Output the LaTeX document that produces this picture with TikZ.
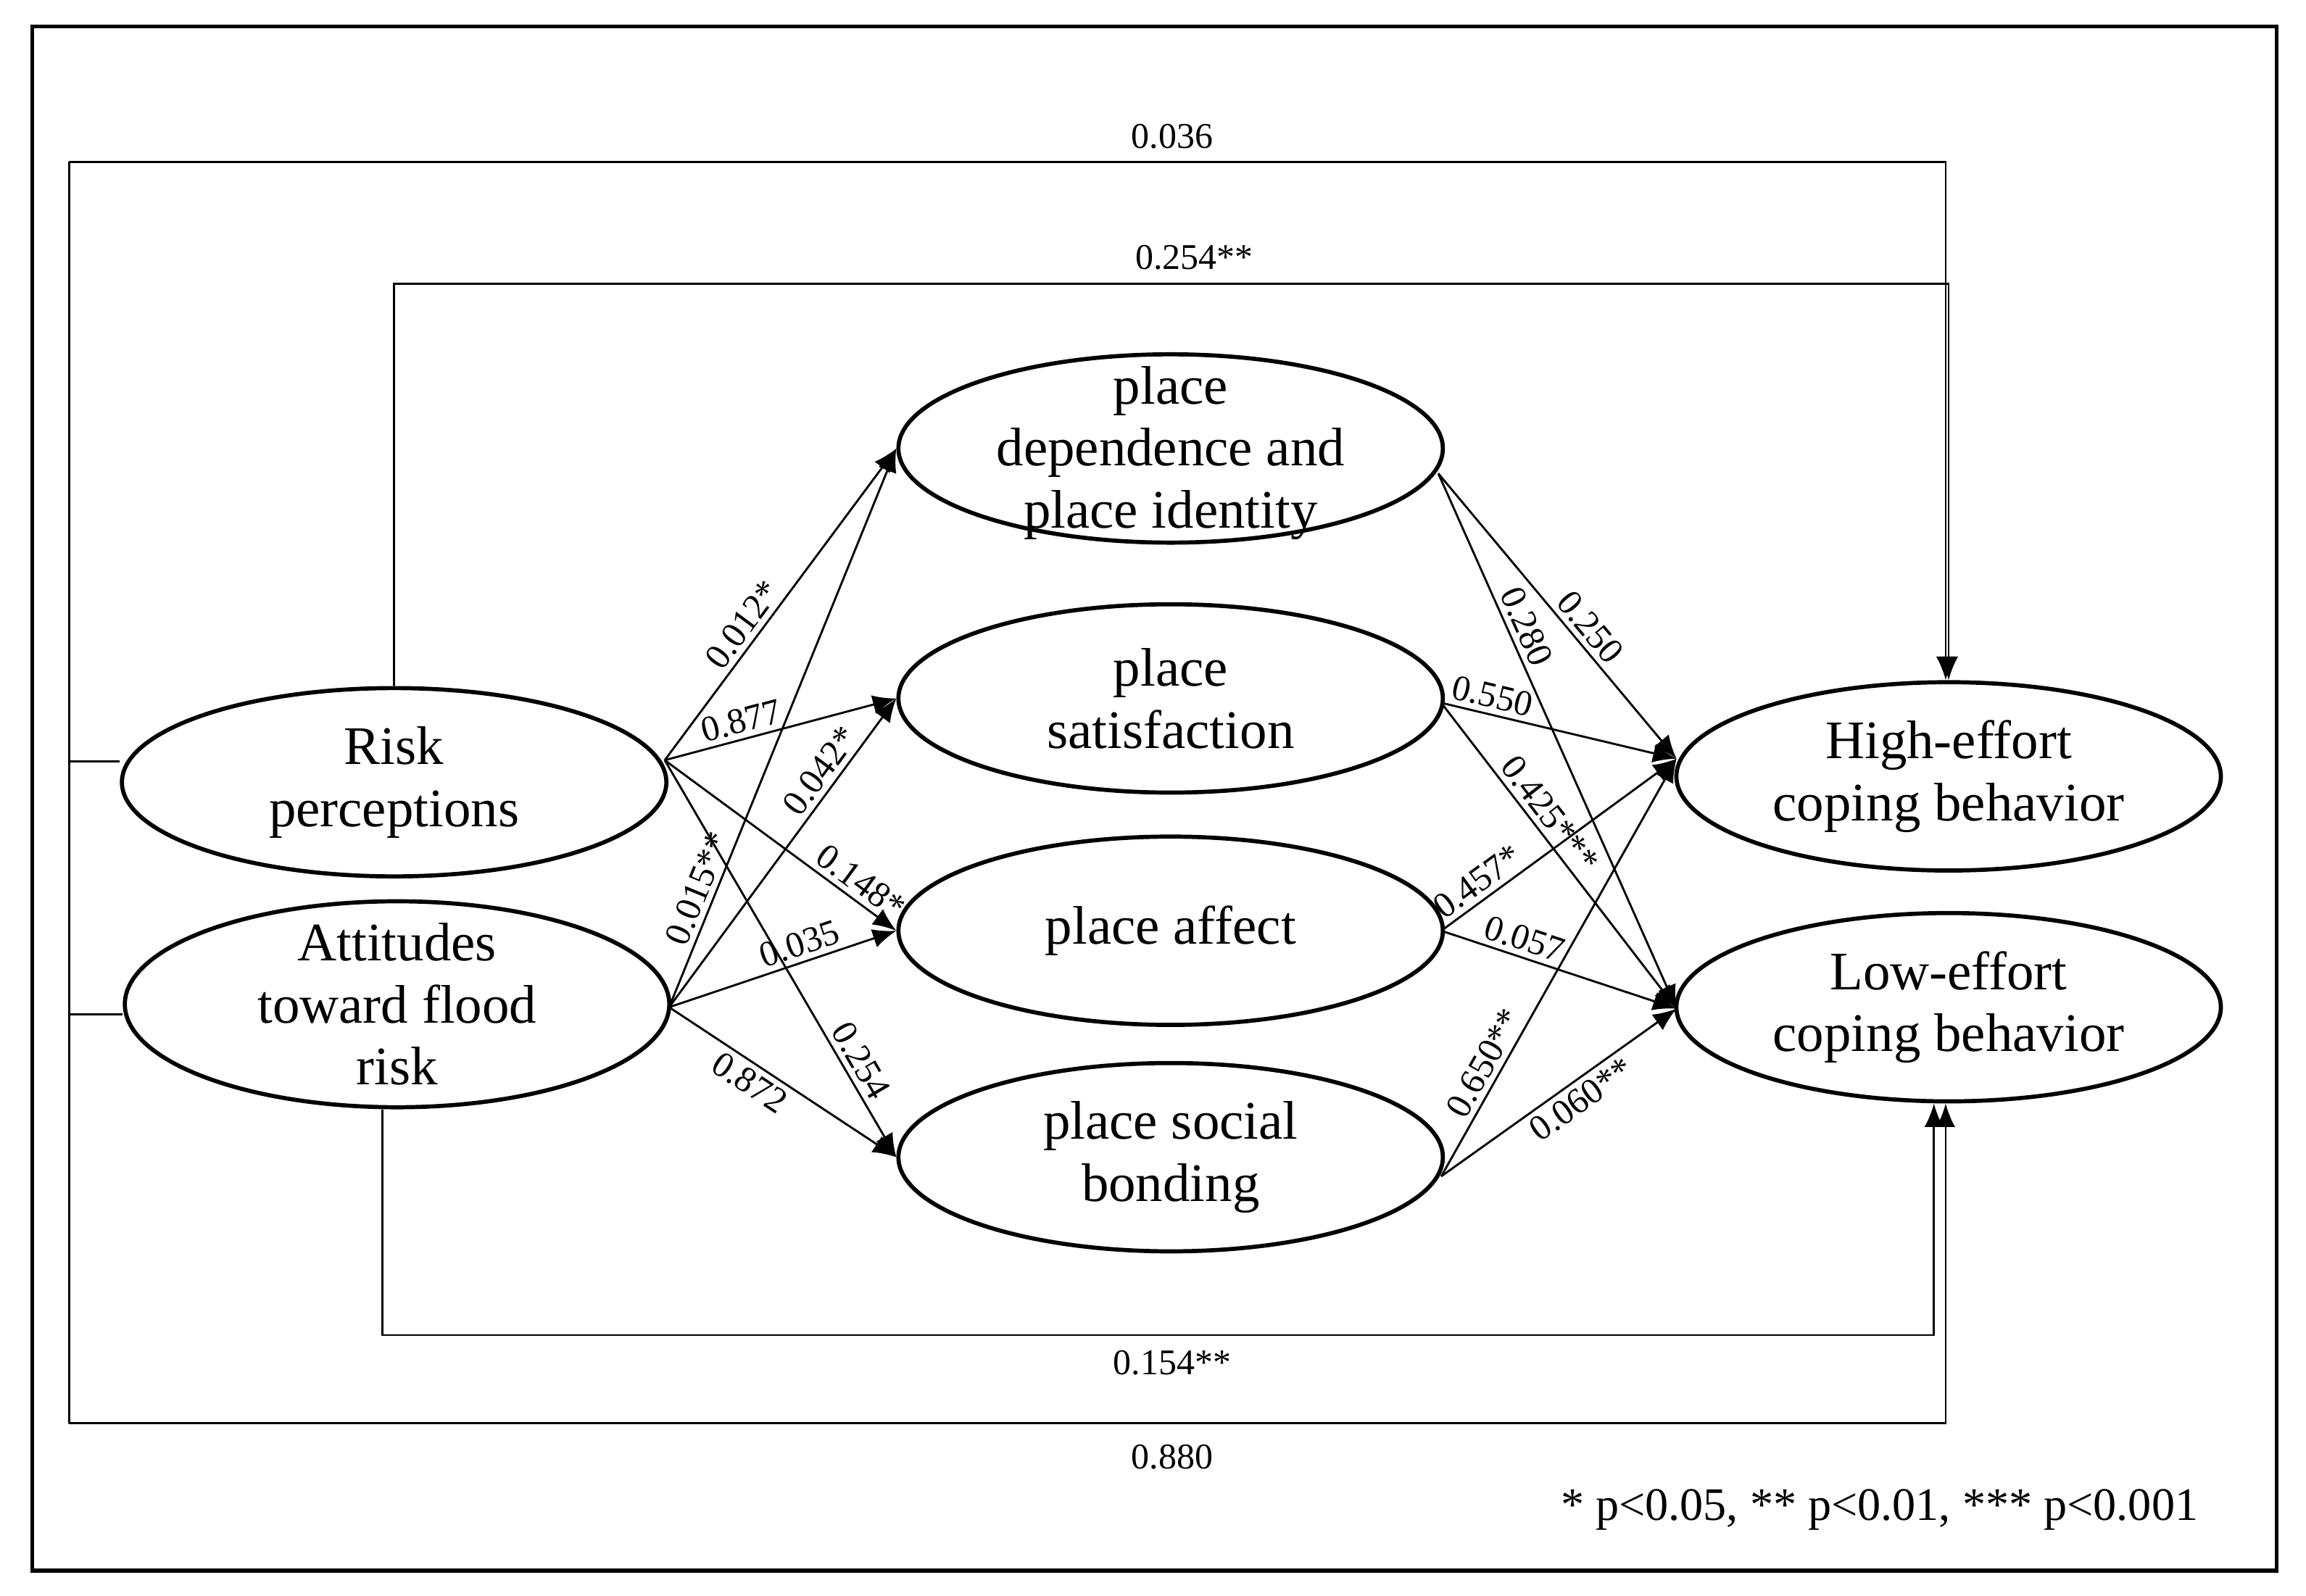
\documentclass[tikz,border=0pt]{standalone}
\usepackage{fontspec}
\setmainfont{Liberation Serif}
\usetikzlibrary{shapes.geometric,arrows.meta}
\begin{document}
\begin{tikzpicture}[x=0.01cm,y=-0.01cm,
  el/.style={draw,ellipse,line width=0.8pt,minimum width=3.7cm,minimum height=1.28cm,inner sep=0pt},
  tx/.style={align=center,inner sep=0pt,font=\fontsize{10.5}{12}\selectfont},
  ar/.style={-{Latex[length=1.6mm,width=1.3mm]},line width=0.4pt},
  ln/.style={line width=0.4pt},
  sm/.style={font=\fontsize{7}{8}\selectfont,inner sep=1pt},
  lb/.style={sm,sloped}]
\useasboundingbox (0,0) rectangle (1568,1085);
\draw[line width=0.8pt] (22,18) rectangle (1548,1068);
\node[el] (risk) at (268,532) {}; \node[tx] at (risk) {Risk\\perceptions};
\node[el,minimum height=1.4cm] (att) at (270,683) {}; \node[tx] at (att) {Attitudes\\toward flood\\risk};
\node[el] (pd) at (796,305) {}; \node[tx] at (796,308) {place\\dependence and\\place identity};
\node[el] (ps) at (796,475) {}; \node[tx] at (ps) {place\\satisfaction};
\node[el] (pa) at (796,633) {}; \node[tx] at (pa) {place affect};
\node[el] (psb) at (796,787) {}; \node[tx] at (psb) {place social\\bonding};
\node[el] (high) at (1325,528) {}; \node[tx] at (high) {High-effort\\coping behavior};
\node[el] (low) at (1325,685) {}; \node[tx] at (low) {Low-effort\\coping behavior};
\coordinate (c1) at (47,110); \coordinate (c2) at (47,968);
\coordinate (hA) at (1323,110); \coordinate (hB) at (1325,193);
\coordinate (lA) at (1323,968); \coordinate (lB) at (1315,908);
\coordinate (rs) at (452,517); \coordinate (as) at (455,685);
\coordinate (pdE) at (978,322); \coordinate (psE) at (980,478);
\coordinate (paE) at (980,633); \coordinate (psbE) at (980,800);
\coordinate (hi) at (1140,516); \coordinate (li) at (1140,686);
% long paths
\draw[ar] (c1) -- (hA) -- (high.north-|hA);
\node[sm] at (797,93) {0.036};
\draw[ar] (risk.north) |- (hB) -- (high.north);
\node[sm] at (812,175) {0.254**};
\draw[ar] (c2) -- (lA) -- (low.south-|lA);
\node[sm] at (797,991) {0.880};
\draw[ar] (att.south-|260,0) |- (lB) -- (low.south-|lB);
\node[sm] at (797,927) {0.154**};
\draw[ln] (c1) -- (c2);
\draw[ln] (47,518) -- (risk.west|-0,518);
\draw[ln] (47,690) -- (att.west|-0,690);
% left arrows
\draw[ar] (rs) -- node[lb,pos=0.4,above]{0.012*} (pd.west);
\draw[ar] (rs) -- node[lb,pos=0.35,above]{0.877} (ps.west);
\draw[ar] (rs) -- node[lb,pos=0.8,above]{0.148*} (pa.west);
\draw[ar] (rs) -- node[lb,pos=0.78,above]{0.254} (psb.west);
\draw[ar] (as) -- node[lb,pos=0.2,above]{0.015**} (pd.west);
\draw[ar] (as) -- node[lb,pos=0.73,above]{0.042*} (ps.west);
\draw[ar] (as) -- node[lb,pos=0.6,above]{0.035} (pa.west);
\draw[ar] (as) -- node[lb,pos=0.4,below]{0.872} (psb.west);
% right arrows
\draw[ar] (pdE) -- node[lb,pos=0.58,above]{0.250} (hi);
\draw[ar] (pdE) -- node[lb,pos=0.3,above]{0.280} (li);
\draw[ar] (psE) -- node[lb,pos=0.2,above]{0.550} (hi);
\draw[ar] (psE) -- node[lb,pos=0.4,above]{0.425***} (li);
\draw[ar] (paE) -- node[lb,pos=0.2,above]{0.457*} (hi);
\draw[ar] (paE) -- node[lb,pos=0.33,above]{0.057} (li);
\draw[ar] (psbE) -- node[lb,pos=0.25,above]{0.650**} (hi);
\draw[ar] (psbE) -- node[lb,pos=0.55,below]{0.060**} (li);
\node[font=\fontsize{9}{11}\selectfont] (leg) at (1278,1027) {* p<0.05, ** p<0.01, *** p<0.001};
\end{tikzpicture}
\end{document}
